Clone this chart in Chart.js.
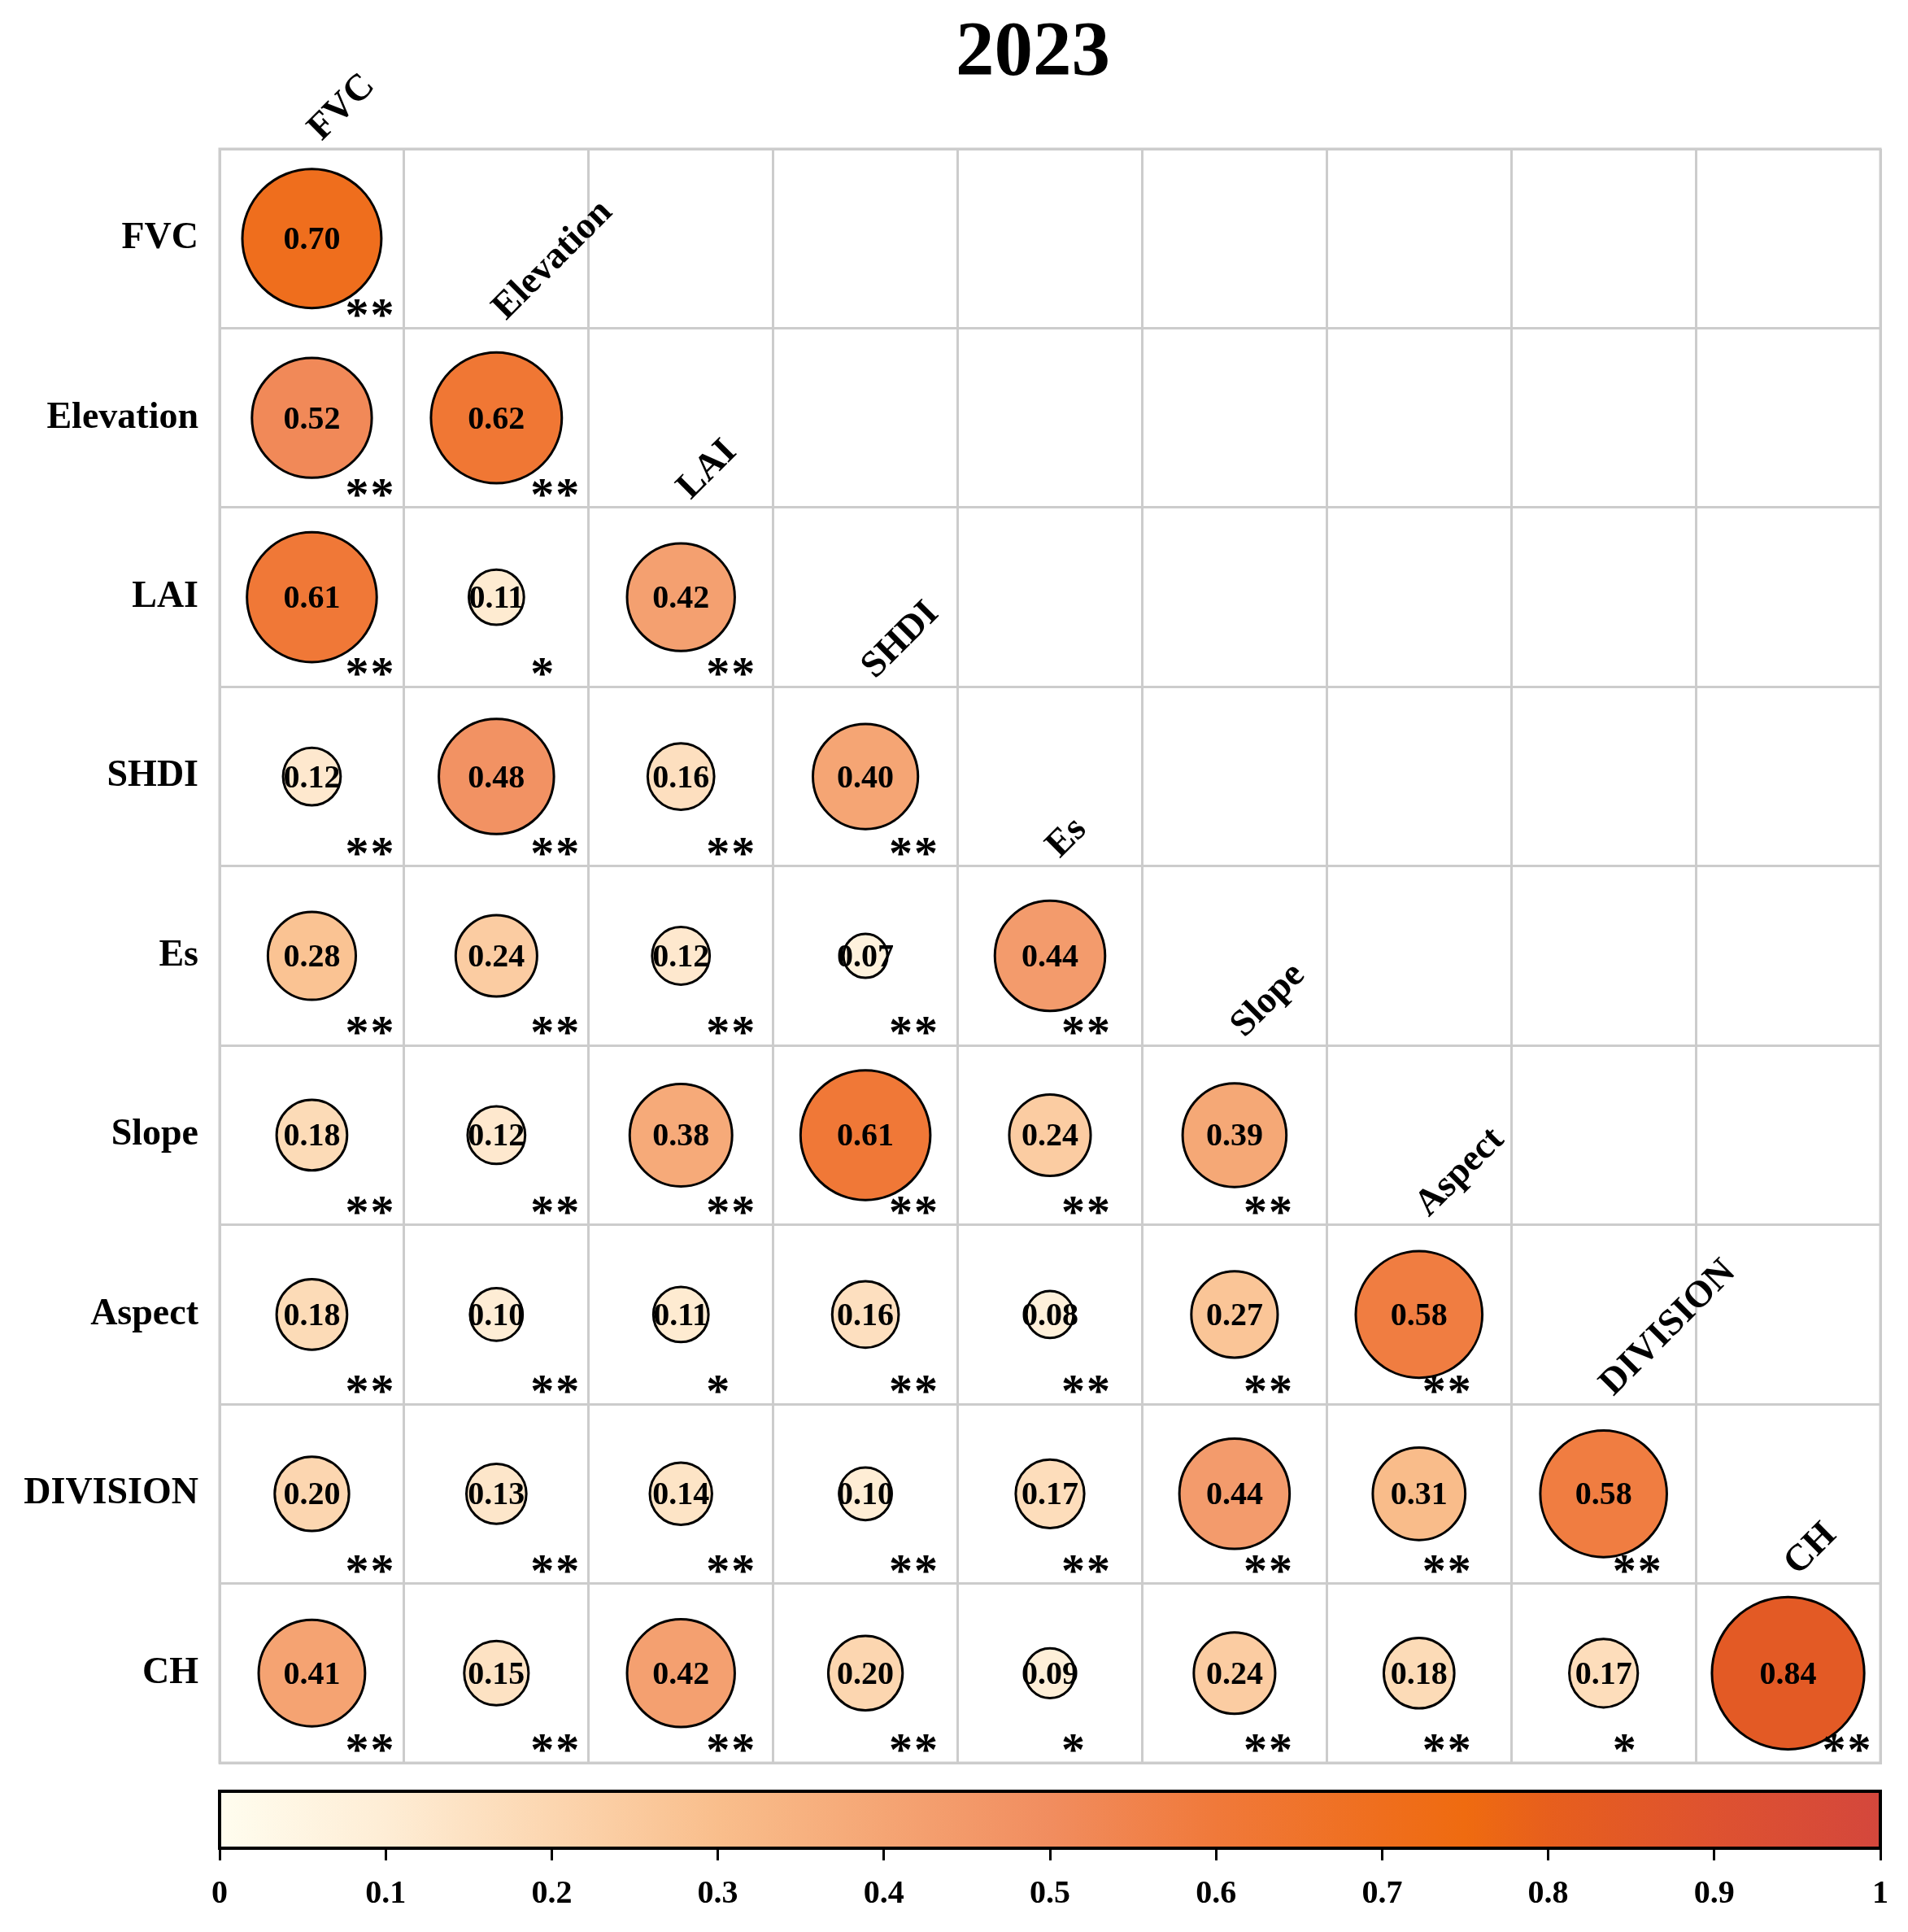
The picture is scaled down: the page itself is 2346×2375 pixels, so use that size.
<!DOCTYPE html>
<html>
<head>
<meta charset="utf-8">
<script src="https://cdn.jsdelivr.net/npm/chart.js@4.4.0/dist/chart.umd.min.js"></script>
<style>
  html, body { margin: 0; padding: 0; background: #ffffff; }
  #wrap { width: 2346px; height: 2375px; }
</style>
</head>
<body>
<div id="wrap"><canvas id="c" width="2346" height="2375"></canvas></div>
<script>
// ---------------- DATA ----------------
const chartTitle = '2023';
const variables = ['FVC', 'Elevation', 'LAI', 'SHDI', 'Es', 'Slope', 'Aspect', 'DIVISION', 'CH'];

// lower-triangle values, one array per row (columns follow `variables`)
const valuesFVC       = [0.70];
const valuesElevation = [0.52, 0.62];
const valuesLAI       = [0.61, 0.11, 0.42];
const valuesSHDI      = [0.12, 0.48, 0.16, 0.40];
const valuesEs        = [0.28, 0.24, 0.12, 0.07, 0.44];
const valuesSlope     = [0.18, 0.12, 0.38, 0.61, 0.24, 0.39];
const valuesAspect    = [0.18, 0.10, 0.11, 0.16, 0.08, 0.27, 0.58];
const valuesDIVISION  = [0.20, 0.13, 0.14, 0.10, 0.17, 0.44, 0.31, 0.58];
const valuesCH        = [0.41, 0.15, 0.42, 0.20, 0.09, 0.24, 0.18, 0.17, 0.84];

// significance marks, same layout
const sigFVC       = ['**'];
const sigElevation = ['**', '**'];
const sigLAI       = ['**', '*', '**'];
const sigSHDI      = ['**', '**', '**', '**'];
const sigEs        = ['**', '**', '**', '**', '**'];
const sigSlope     = ['**', '**', '**', '**', '**', '**'];
const sigAspect    = ['**', '**', '*', '**', '**', '**', '**'];
const sigDIVISION  = ['**', '**', '**', '**', '**', '**', '**', '**'];
const sigCH        = ['**', '**', '**', '**', '*', '**', '**', '*', '**'];

const colorbarTicks = [0, 0.1, 0.2, 0.3, 0.4, 0.5, 0.6, 0.7, 0.8, 0.9, 1];

const valueRows = [valuesFVC, valuesElevation, valuesLAI, valuesSHDI, valuesEs,
                   valuesSlope, valuesAspect, valuesDIVISION, valuesCH];
const sigRows = [sigFVC, sigElevation, sigLAI, sigSHDI, sigEs,
                 sigSlope, sigAspect, sigDIVISION, sigCH];

// ---------------- STYLE ----------------
const FONT = "'Liberation Serif', 'Times New Roman', Times, serif";
const cmapPos = [0, 0.1, 0.2, 0.3, 0.4, 0.5, 0.6, 0.7, 0.75, 0.8, 0.9, 1];
const cmapCol = ['#FFFDEF', '#FEEDD5', '#FCD6B0', '#F9BE8C', '#F5A574', '#F18D5F',
                 '#F0793A', '#EF6E1D', '#EF6B10', '#E75F1D', '#DE5230', '#D4473C'];
// horizontal offset (px) of the star group centre from the cell centre, per column
const starOffsetX = [71, 72, 61, 59, 44, 41, 34, 41, 72];

function hexRgb(h) { const n = parseInt(h.slice(1), 16); return [(n >> 16) & 255, (n >> 8) & 255, n & 255]; }
function cmap(v) {
  v = Math.max(0, Math.min(1, v));
  for (let k = 0; k < cmapPos.length - 1; k++) {
    if (v <= cmapPos[k + 1]) {
      const t = (v - cmapPos[k]) / (cmapPos[k + 1] - cmapPos[k]);
      const a = hexRgb(cmapCol[k]), b = hexRgb(cmapCol[k + 1]);
      return 'rgb(' + a.map((c, i) => Math.round(c + (b[i] - c) * t)).join(',') + ')';
    }
  }
  return cmapCol[cmapCol.length - 1];
}

const points = [];
valueRows.forEach((row, i) => row.forEach((v, j) => {
  points.push({ x: variables[j], y: variables[i], v: v, sig: sigRows[i][j], col: j });
}));

function cellSize(chart) {
  const a = chart && chart.chartArea;
  if (!a) return { w: 227, h: 220 };
  return { w: (a.right - a.left) / variables.length, h: (a.bottom - a.top) / variables.length };
}

const overlay = {
  id: 'overlay',
  beforeDraw(chart) {
    const ctx = chart.ctx;
    ctx.save();
    ctx.fillStyle = '#ffffff';
    ctx.fillRect(0, 0, chart.width, chart.height);
    ctx.restore();
  },
  afterDatasetsDraw(chart) {
    const ctx = chart.ctx, a = chart.chartArea;
    const xs = chart.scales.x, ys = chart.scales.y;
    const cs = cellSize(chart);
    ctx.save();
    // outer grid frame
    ctx.strokeStyle = '#cccccc';
    ctx.lineWidth = 3;
    ctx.strokeRect(a.left, a.top, a.right - a.left, a.bottom - a.top);

    // values in circles
    const meta = chart.getDatasetMeta(0);
    ctx.fillStyle = '#000';
    ctx.textAlign = 'center';
    ctx.textBaseline = 'alphabetic';
    ctx.font = 'bold 40px ' + FONT;
    const dAsc = ctx.measureText('0').actualBoundingBoxAscent;
    meta.data.forEach((el, k) => {
      const p = points[k];
      ctx.fillText(p.v.toFixed(2), el.x, el.y + dAsc / 2);
    });

    // significance stars
    ctx.font = 'bold 58px ' + FONT;
    const m = ctx.measureText('*');
    const starShift = (m.actualBoundingBoxAscent - m.actualBoundingBoxDescent) / 2;
    meta.data.forEach((el, k) => {
      const p = points[k];
      const gx = el.x + starOffsetX[p.col];
      const yb = el.y + cs.h / 2 - 24 + starShift;
      const n = p.sig.length;
      for (let s = 0; s < n; s++) {
        ctx.fillText('*', gx - 15.5 + s * 31, yb);
      }
    });

    // diagonal column labels
    ctx.font = 'bold 46px ' + FONT;
    ctx.textAlign = 'left';
    ctx.textBaseline = 'alphabetic';
    variables.forEach((name, j) => {
      const cx = xs.getPixelForValue(j);
      const top = ys.getPixelForValue(j) - cs.h / 2;
      ctx.save();
      ctx.translate(cx + 12, top - 9);
      ctx.rotate(-Math.PI / 4);
      ctx.fillText(name, 0, 0);
      ctx.restore();
    });

    // title
    ctx.font = 'bold 95px ' + FONT;
    ctx.textAlign = 'center';
    const tAsc = ctx.measureText(chartTitle).actualBoundingBoxAscent;
    ctx.fillText(chartTitle, (a.left + a.right) / 2 - 21, 60 + tAsc / 2);
    ctx.restore();
  },
  afterDraw(chart) {
    const ctx = chart.ctx, cb = chart.scales.cb;
    const x0 = cb.getPixelForValue(0), x1 = cb.getPixelForValue(1);
    const yB = cb.top, yT = cb.top - 70;
    ctx.save();
    const g = ctx.createLinearGradient(x0, 0, x1, 0);
    cmapPos.forEach((p, k) => g.addColorStop(p, cmapCol[k]));
    ctx.fillStyle = g;
    ctx.fillRect(x0, yT, x1 - x0, yB - yT);
    ctx.strokeStyle = '#000';
    ctx.lineWidth = 4;
    ctx.strokeRect(x0, yT, x1 - x0, yB - yT);
    ctx.restore();
  }
};

new Chart(document.getElementById('c'), {
  type: 'bubble',
  data: {
    datasets: [{
      data: points,
      backgroundColor: c => cmap(c.raw ? c.raw.v : 0),
      borderColor: '#000000',
      borderWidth: 3,
      radius: c => (c.raw ? Math.sqrt(c.raw.v) * 0.45 * cellSize(c.chart).w : 0),
      hoverRadius: 0,
      clip: false
    }]
  },
  options: {
    responsive: false,
    animation: false,
    devicePixelRatio: 1,
    events: [],
    layout: { autoPadding: false, padding: { top: 183, right: 34, left: 0, bottom: 0 } },
    plugins: { legend: { display: false }, tooltip: { enabled: false }, title: { display: false } },
    scales: {
      x: {
        type: 'category', labels: variables, offset: true, position: 'bottom', weight: 0,
        grid: { offset: true, color: '#cccccc', lineWidth: 3, drawTicks: false },
        border: { display: true, color: '#cccccc', width: 3 },
        ticks: { display: false },
        afterFit: s => { s.height = 105; s.paddingLeft = 0; s.paddingRight = 0; }
      },
      y: {
        type: 'category', labels: variables, offset: true, position: 'left',
        grid: { offset: true, color: '#cccccc', lineWidth: 3, drawTicks: false },
        border: { display: true, color: '#cccccc', width: 3 },
        ticks: { font: { family: FONT, size: 46, weight: 'bold' }, color: '#000000', padding: 26 },
        afterFit: s => { s.width = 270; s.paddingTop = 0; s.paddingBottom = 0; }
      },
      cb: {
        type: 'linear', position: 'bottom', weight: 1, min: 0, max: 1,
        afterBuildTicks: s => { s.ticks = colorbarTicks.map(v => ({ value: v })); },
        grid: { drawOnChartArea: false, drawTicks: true, tickLength: 15, color: '#000000', lineWidth: 3 },
        border: { display: true, color: '#000000', width: 4 },
        ticks: { font: { family: FONT, size: 40, weight: 'bold' }, color: '#000000', padding: 18,
                 maxRotation: 0, autoSkip: false, callback: v => String(v) },
        afterFit: s => { s.height = 103; s.paddingLeft = 0; s.paddingRight = 0; }
      }
    }
  },
  plugins: [overlay]
});
</script>
</body>
</html>
